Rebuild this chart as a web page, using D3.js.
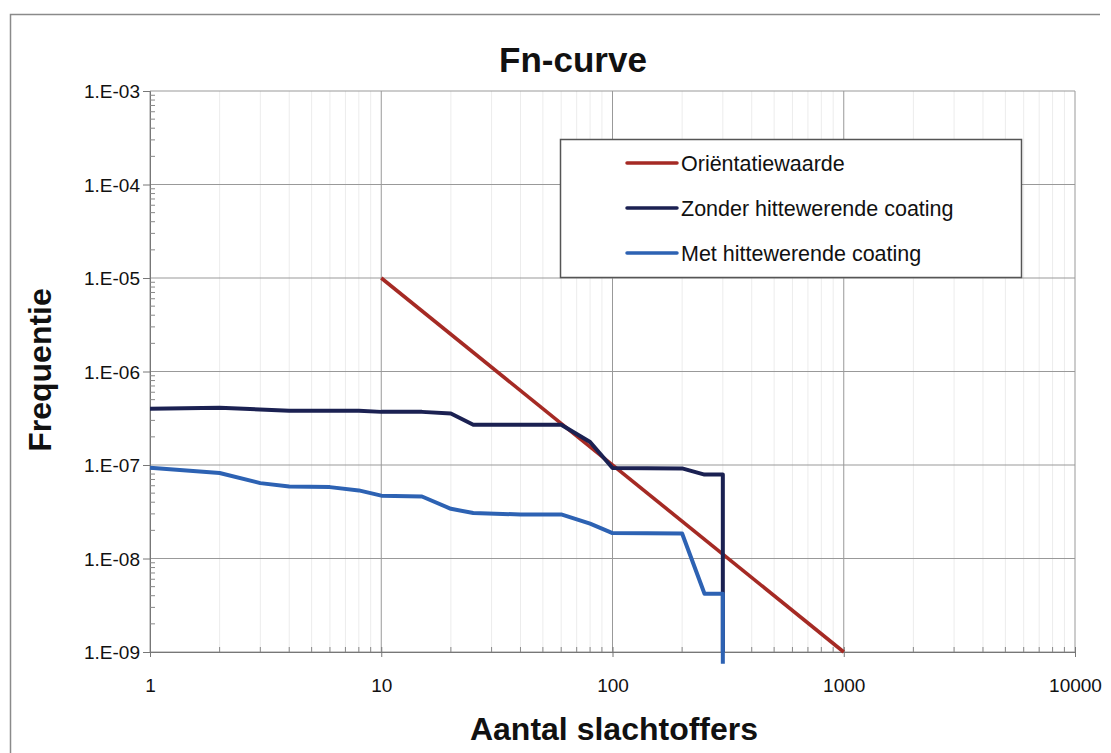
<!DOCTYPE html>
<html><head><meta charset="utf-8">
<script src="https://cdn.jsdelivr.net/npm/d3@7"></script>
<style>body{margin:0;background:#fff}svg{display:block}text{font-family:Arial,"Liberation Sans",Helvetica,sans-serif}</style>
</head><body><svg id="c" width="1111" height="753"></svg>
<script>
// ---- data ----
const seriesNames = ["Oriëntatiewaarde", "Zonder hittewerende coating", "Met hittewerende coating"];
const seriesColors = ["#a52a24", "#1b2152", "#2d62b3"];
const orientN = [10, 1000];
const orientF = [1e-5, 1e-9];
const zonderN = [1, 2, 4, 8, 10, 15, 20, 25, 60, 80, 100, 200, 250, 300, 300];
const zonderF = [4.0e-7, 4.1e-7, 3.8e-7, 3.8e-7, 3.7e-7, 3.7e-7, 3.55e-7, 2.7e-7, 2.7e-7, 1.76e-7, 9.3e-8, 9.2e-8, 7.9e-8, 7.9e-8, 1e-9];
const metN = [1, 2, 3, 4, 6, 8, 10, 15, 20, 25, 40, 60, 80, 100, 200, 250, 300, 300];
const metF = [9.35e-8, 8.2e-8, 6.4e-8, 5.9e-8, 5.8e-8, 5.35e-8, 4.7e-8, 4.6e-8, 3.4e-8, 3.06e-8, 2.96e-8, 2.96e-8, 2.36e-8, 1.87e-8, 1.85e-8, 4.2e-9, 4.2e-9, 7.5e-10];
const xTickValues = [1, 10, 100, 1000, 10000];
const xTickLabels = ["1", "10", "100", "1000", "10000"];
const yTickValues = [1e-3, 1e-4, 1e-5, 1e-6, 1e-7, 1e-8, 1e-9];
const yTickLabels = ["1.E-03", "1.E-04", "1.E-05", "1.E-06", "1.E-07", "1.E-08", "1.E-09"];
const titleText = "Fn-curve";
const xTitle = "Aantal slachtoffers";
const yTitle = "Frequentie";

// ---- layout ----
const L = 150, R = 1075, T = 91, B = 652;
const svg = d3.select("#c");
const x = d3.scaleLog().domain([1, 10000]).range([L, R]);
const y = d3.scaleLog().domain([1e-3, 1e-9]).range([T, B]);

// outer frame (left + top)
svg.append("path").attr("d", "M10.5,760 L10.5,14.5 L1100,14.5").attr("fill", "none").attr("stroke", "#8a8a8a").attr("stroke-width", 1.5);

// minor vertical grid
const minorX = [];
for (let d = 1; d < 10000; d *= 10) for (let k = 2; k <= 9; k++) minorX.push(d * k);
svg.append("g").selectAll("line").data(minorX).join("line")
  .attr("x1", d => x(d)).attr("x2", d => x(d)).attr("y1", T).attr("y2", B)
  .attr("stroke", "#ececec").attr("stroke-width", 1);

// major grid
svg.append("g").selectAll("line").data(xTickValues).join("line")
  .attr("x1", d => x(d)).attr("x2", d => x(d)).attr("y1", T).attr("y2", B)
  .attr("stroke", "#999").attr("stroke-width", 1);
svg.append("g").selectAll("line").data(yTickValues).join("line")
  .attr("x1", L).attr("x2", R).attr("y1", d => y(d)).attr("y2", d => y(d))
  .attr("stroke", "#999").attr("stroke-width", 1);

// axes
const yAxis = d3.axisLeft(y).tickValues(yTickValues).tickFormat((d, i) => yTickLabels[i]).tickSize(7).tickPadding(3);
const gy = svg.append("g").attr("transform", `translate(${L},0)`).call(yAxis);
gy.select(".domain").attr("stroke", "#777");
gy.selectAll(".tick line").attr("stroke", "#777");
gy.selectAll("text").attr("font-size", 19).attr("fill", "#111").attr("dy", "0.35em");
// y minor ticks (inside)
const minorY = [];
for (let d = 1e-9; d < 1e-3; d *= 10) for (let k = 2; k <= 9; k++) minorY.push(d * k);
svg.append("g").selectAll("line").data(minorY).join("line")
  .attr("x1", L).attr("x2", L + 5).attr("y1", d => y(d)).attr("y2", d => y(d))
  .attr("stroke", "#888");

const xAxis = d3.axisBottom(x).tickValues(xTickValues).tickFormat((d, i) => xTickLabels[i]).tickSize(5).tickPadding(22);
const gx = svg.append("g").attr("transform", `translate(0,${B})`).call(xAxis);
gx.select(".domain").attr("stroke", "#777");
gx.selectAll(".tick line").attr("stroke", "#777").attr("y1", -5);
gx.selectAll("text").attr("font-size", 19).attr("fill", "#111");
svg.append("g").selectAll("line").data(minorX).join("line")
  .attr("x1", d => x(d)).attr("x2", d => x(d)).attr("y1", B).attr("y2", B - 5)
  .attr("stroke", "#888");

// series
const line = d3.line().x(d => x(d[0])).y(d => y(d[1]));
const series = [
  {n: orientN, f: orientF, w: 3.6},
  {n: zonderN, f: zonderF, w: 4},
  {n: metN, f: metF, w: 4}
];
series.forEach((s, i) => {
  svg.append("path").datum(s.n.map((v, j) => [v, s.f[j]]))
    .attr("d", line).attr("fill", "none").attr("stroke", seriesColors[i])
    .attr("stroke-width", s.w).attr("stroke-linejoin", "round");
});

// legend
const lg = svg.append("g");
lg.append("rect").attr("x", 560.5).attr("y", 139.5).attr("width", 461).attr("height", 138)
  .attr("fill", "#fff").attr("stroke", "#555").attr("stroke-width", 1.5);
const rowsY = [163, 208, 253];
seriesNames.forEach((name, i) => {
  lg.append("line").attr("x1", 627).attr("x2", 677).attr("y1", rowsY[i]).attr("y2", rowsY[i])
    .attr("stroke", seriesColors[i]).attr("stroke-width", 3.5).attr("stroke-linecap", "round");
  lg.append("text").attr("x", 681).attr("y", rowsY[i]).attr("dy", "0.35em")
    .attr("font-size", 21.5).attr("fill", "#111").text(name);
});

// titles
svg.append("text").attr("x", 573).attr("y", 72).attr("text-anchor", "middle")
  .attr("font-size", 35).attr("font-weight", "bold").attr("fill", "#111").text(titleText);
svg.append("text").attr("x", 614).attr("y", 740).attr("text-anchor", "middle")
  .attr("font-size", 32).attr("font-weight", "bold").attr("fill", "#111").text(xTitle);
svg.append("text").attr("transform", "translate(51,370) rotate(-90)").attr("text-anchor", "middle")
  .attr("font-size", 32).attr("font-weight", "bold").attr("fill", "#111").text(yTitle);
</script></body></html>
